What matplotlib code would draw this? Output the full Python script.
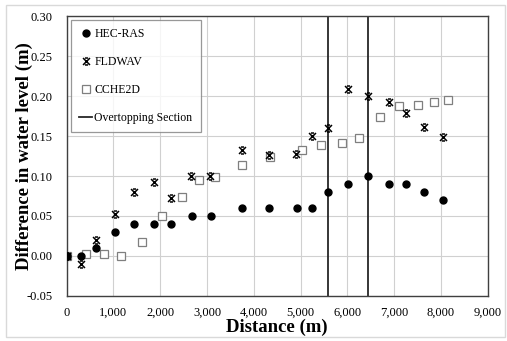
import matplotlib
matplotlib.use("Agg")
import matplotlib.pyplot as plt
from matplotlib.path import Path
from matplotlib.patches import Rectangle
from matplotlib.ticker import FuncFormatter

plt.rcParams['font.family'] = ['Liberation Serif', 'DejaVu Serif']

# distance along channel (m) and water level differences (m)
hec_x = [0, 300, 635, 1035, 1440, 1865, 2230, 2685, 3080, 3750,
         4330, 4915, 5245, 5580, 6005, 6450, 6890, 7255, 7645, 8050]
hec_y = [0.0, 0.0, 0.01, 0.03, 0.04, 0.04, 0.04, 0.05, 0.05, 0.06,
         0.06, 0.06, 0.06, 0.08, 0.09, 0.10, 0.09, 0.09, 0.08, 0.07]

fld_x = [0, 300, 635, 1030, 1430, 1865, 2230, 2660, 3065, 3750,
         4330, 4910, 5240, 5580, 6005, 6450, 6890, 7255, 7645, 8050]
fld_y = [0.0, -0.01, 0.02, 0.053, 0.080, 0.093, 0.073, 0.100, 0.100, 0.133,
         0.126, 0.128, 0.150, 0.160, 0.209, 0.200, 0.192, 0.179, 0.161, 0.149]

cch_x = [0, 415, 800, 1160, 1605, 2045, 2470, 2830, 3170, 3750,
         4345, 5025, 5430, 5880, 6250, 6700, 7110, 7515, 7850, 8145]
cch_y = [0.0, 0.003, 0.002, 0.0, 0.018, 0.050, 0.074, 0.095, 0.099, 0.114,
         0.124, 0.132, 0.139, 0.141, 0.148, 0.174, 0.187, 0.189, 0.192, 0.195]

overtop_x = [5580, 6450]

# excel-like star marker: x with short flat caps
star = Path([(-1, -1), (1, 1), (-1, 1), (1, -1), (-0.45, 1), (0.45, 1), (-0.45, -1), (0.45, -1)],
            [Path.MOVETO, Path.LINETO, Path.MOVETO, Path.LINETO,
             Path.MOVETO, Path.LINETO, Path.MOVETO, Path.LINETO])

fig = plt.figure(figsize=(5.07, 3.41), dpi=100)
ax = fig.add_axes([0.1315, 0.132, 0.8305, 0.821])

fig.patches.append(Rectangle((6 / 507, 4 / 341), 499 / 507, 332 / 341, transform=fig.transFigure,
                             fill=False, edgecolor='#d9d9d9', linewidth=1.0))

ax.plot(hec_x, hec_y, 'o', color='black', markersize=5, linestyle='none', label='HEC-RAS', zorder=3)
ax.plot(fld_x, fld_y, marker=star, color='black', markersize=5, markeredgewidth=1.1,
        linestyle='none', label='FLDWAV', zorder=4)
ax.plot(cch_x, cch_y, 's', markerfacecolor='white', markeredgecolor='#7f7f7f', markersize=5.4,
        markeredgewidth=0.9, linestyle='none', label='CCHE2D', zorder=2)
for i, xv in enumerate(overtop_x):
    ax.axvline(xv, color='#262626', linewidth=1.3, zorder=1,
               label='Overtopping Section' if i == 0 else None)

ax.set_xlim(0, 9000)
ax.set_ylim(-0.05, 0.30)
ax.set_xticks(range(0, 9001, 1000))
ax.set_yticks([-0.05, 0.0, 0.05, 0.10, 0.15, 0.20, 0.25, 0.30])
ax.xaxis.set_major_formatter(FuncFormatter(lambda v, p: f"{int(v):,}"))
ax.yaxis.set_major_formatter(FuncFormatter(lambda v, p: f"{v:.2f}"))
ax.tick_params(length=0, labelsize=9)
ax.tick_params(axis='y', pad=10)
ax.tick_params(axis='x', pad=8)
ax.grid(True, color='#d0d0d0', linewidth=0.8)
ax.set_axisbelow(True)
for s in ax.spines.values():
    s.set_color('#404040')
    s.set_linewidth(1.0)

ax.set_xlabel('Distance (m)', fontsize=13.5, fontweight='bold', labelpad=0)
ax.set_ylabel('Difference in water level (m)', fontsize=13.5, fontweight='bold')
ax.yaxis.set_label_coords(-0.08, 0.5)

leg = ax.legend(loc='upper left', bbox_to_anchor=(0.008, 0.99), fontsize=8.5, frameon=True,
                fancybox=False, edgecolor='#7f7f7f', labelspacing=1.35, handlelength=1.1,
                handletextpad=0.15, borderpad=0.7, borderaxespad=0.1)
leg.get_frame().set_linewidth(0.9)

fig.savefig('out.png', dpi=100)
